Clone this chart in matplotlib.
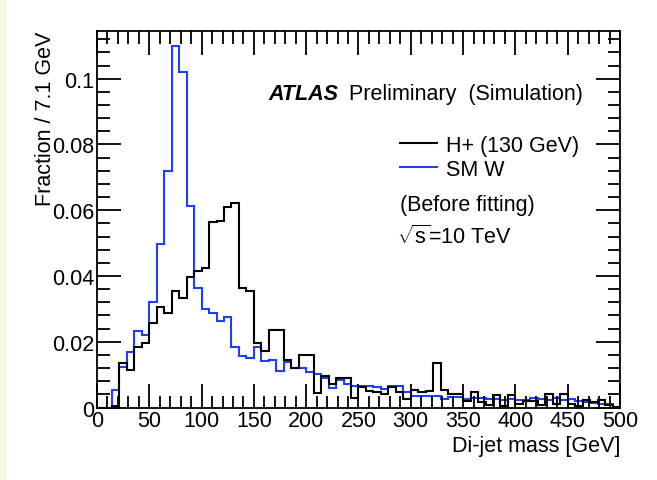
import numpy as np
import matplotlib
matplotlib.use("Agg")
import matplotlib.pyplot as plt
from matplotlib.lines import Line2D
from matplotlib.ticker import MultipleLocator, FuncFormatter

plt.rcParams['font.family'] = ['Liberation Sans', 'DejaVu Sans']
plt.rcParams['mathtext.fontset'] = 'custom'
plt.rcParams['mathtext.rm'] = 'Liberation Sans'

# 70 bins of 7.14 GeV between 0 and 500 GeV
edges = np.linspace(0, 500, 71)

h_plus = [0, 0, 0.0005, 0.0134, 0.0115, 0.0183, 0.0195, 0.0257, 0.0306, 0.0286,
          0.0355, 0.0332, 0.0396, 0.0416, 0.0423, 0.0563, 0.0568, 0.0609, 0.0622, 0.0363,
          0.0355, 0.0196, 0.0171, 0.0237, 0.0237, 0.0145, 0.0120, 0.0160, 0.0160, 0.0044,
          0.0097, 0.0071, 0.0090, 0.0090, 0.0029, 0.0061, 0.0049, 0.0046, 0.0041, 0.0063,
          0.0046, 0.0026, 0.0053, 0.0046, 0.0051, 0.0134, 0.0053, 0.0041, 0.0041, 0.0021,
          0.0048, 0.0018, 0.0008, 0.0038, 0.0005, 0.0038, 0.0010, 0.0020, 0.0020, 0.0009,
          0.0040, 0.0012, 0.0040, 0.0012, 0.0005, 0.0024, 0.0016, 0.0024, 0.0008, 0.0003]

sm_w = [0, 0, 0.0053, 0.0124, 0.0170, 0.0233, 0.0220, 0.0320, 0.0497, 0.0720,
        0.1098, 0.1019, 0.0613, 0.0363, 0.0299, 0.0286, 0.0262, 0.0275, 0.0183, 0.0158,
        0.0150, 0.0183, 0.0140, 0.0145, 0.0110, 0.0137, 0.0120, 0.0120, 0.0109, 0.0102,
        0.0089, 0.0059, 0.0085, 0.0071, 0.0066, 0.0066, 0.0066, 0.0062, 0.0057, 0.0066,
        0.0066, 0.0046, 0.0036, 0.0036, 0.0036, 0.0036, 0.0026, 0.0031, 0.0031, 0.0026,
        0.0028, 0.0028, 0.0026, 0.0026, 0.0022, 0.0026, 0.0024, 0.0024, 0.0029, 0.0026,
        0.0022, 0.0029, 0.0024, 0.0026, 0.0020, 0.0016, 0.0014, 0.0012, 0.0012, 0.0]

blue = '#1f3fff'
fs = 15.5

fig = plt.figure(figsize=(6.57, 4.81), dpi=100)
fig.patches.append(plt.Rectangle((0, 0), 0.008, 1, transform=fig.transFigure,
                                 color='#fdf5e4', zorder=0))
ax = fig.add_axes([0.1476, 0.1507, 0.7961, 0.7828])

ax.stairs(sm_w, edges, color=blue, lw=1.5)
ax.stairs(h_plus, edges, color='black', lw=1.5)

ax.set_xlim(0, 500)
ax.set_ylim(0, 0.1145)
ax.xaxis.set_major_locator(MultipleLocator(50))
ax.xaxis.set_minor_locator(MultipleLocator(10))
ax.yaxis.set_major_locator(MultipleLocator(0.02))
ax.yaxis.set_minor_locator(MultipleLocator(0.004))
ax.yaxis.set_major_formatter(FuncFormatter(lambda v, p: '%g' % round(v, 4)))
ax.tick_params(which='both', direction='in', top=True, right=True,
               labelsize=fs, width=1.3, pad=2)
ax.tick_params(which='major', length=17)
ax.tick_params(which='minor', length=9)
for s in ax.spines.values():
    s.set_linewidth(1.3)

ax.set_xlabel('Di-jet mass [GeV]', loc='right', fontsize=fs, labelpad=3)
ax.set_ylabel('Fraction / 7.1 GeV', loc='top', fontsize=fs, labelpad=-3)

ax.text(0.327, 0.833, 'ATLAS', transform=ax.transAxes, fontsize=fs,
        fontweight='bold', fontstyle='italic', va='center')
ax.text(0.482, 0.833, 'Preliminary  (Simulation)', transform=ax.transAxes,
        fontsize=fs, va='center')

handles = [Line2D([], [], color='black', lw=1.5),
           Line2D([], [], color=blue, lw=1.5)]
ax.legend(handles, ['H+ (130 GeV)', 'SM W'], loc='center left',
          bbox_to_anchor=(0.579, 0.665), frameon=False, fontsize=fs,
          handlelength=1.75, handletextpad=0.4, labelspacing=0.15,
          borderaxespad=0, borderpad=0)
ax.text(0.579, 0.540, '(Before fitting)', transform=ax.transAxes,
        fontsize=fs, va='center')
ax.text(0.574, 0.455, r'$\sqrt{\mathrm{s}}$=10 TeV', transform=ax.transAxes,
        fontsize=fs, va='center')

fig.savefig('out.png', dpi=100)
